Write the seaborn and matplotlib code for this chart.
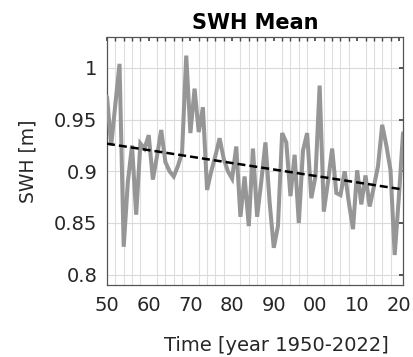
import numpy as np
import pandas as pd
import matplotlib
matplotlib.use("Agg")
import matplotlib.pyplot as plt
from matplotlib.ticker import MultipleLocator, FixedLocator, FixedFormatter
import seaborn as sns

years = list(range(1950, 2022))
swh_mean = [
    0.972, 0.925, 0.965, 1.004, 0.827, 0.890, 0.925, 0.858, 0.927, 0.922,
    0.935, 0.892, 0.915, 0.940, 0.909, 0.900, 0.895, 0.905, 0.918, 1.012,
    0.937, 0.980, 0.938, 0.962, 0.882, 0.900, 0.915, 0.932, 0.912, 0.900,
    0.893, 0.924, 0.856, 0.895, 0.847, 0.922, 0.856, 0.890, 0.928, 0.870,
    0.826, 0.847, 0.937, 0.928, 0.876, 0.916, 0.850, 0.920, 0.937, 0.874,
    0.895, 0.983, 0.861, 0.890, 0.922, 0.879, 0.877, 0.900, 0.870, 0.844,
    0.901, 0.868, 0.896, 0.866, 0.885, 0.905, 0.945, 0.925, 0.901, 0.819,
    0.875, 0.937,
]
xtick_values = [1950, 1960, 1970, 1980, 1990, 2000, 2010, 2020]
xtick_labels = ["50", "60", "70", "80", "90", "00", "10", "20"]
ytick_values = [0.8, 0.85, 0.9, 0.95, 1.0]
ytick_labels = ["0.8", "0.85", "0.9", "0.95", "1"]

df = pd.DataFrame({"year": years, "swh": swh_mean})

sns.set_theme(style="white")
plt.rcParams["font.family"] = ["DejaVu Sans"]

fig = plt.figure(figsize=(4.14, 3.57), dpi=100)
ax = fig.add_axes([0.2585, 0.2017, 0.7150, 0.6947])

sns.lineplot(data=df, x="year", y="swh", ax=ax, color="#969696", linewidth=2.9,
             solid_joinstyle="miter", zorder=3)
sns.regplot(data=df, x="year", y="swh", ax=ax, scatter=False, ci=None,
            line_kws=dict(color="black", linewidth=1.8, linestyle=(0, (3.2, 1.6)), zorder=4))

ax.set_xlim(1950, 2021)
ax.set_ylim(0.79, 1.03)

ax.xaxis.set_major_locator(FixedLocator(xtick_values))
ax.xaxis.set_major_formatter(FixedFormatter(xtick_labels))
ax.xaxis.set_minor_locator(MultipleLocator(2))
ax.yaxis.set_major_locator(FixedLocator(ytick_values))
ax.yaxis.set_major_formatter(FixedFormatter(ytick_labels))

ax.grid(False)
ax.grid(True, axis="y", which="major", color="#dadada", linewidth=0.8)
ax.grid(True, axis="x", which="minor", color="#dedede", linewidth=0.8)
ax.set_axisbelow(True)

ax.tick_params(axis="both", which="both", direction="in", top=True, right=True,
               colors="#444444", labelcolor="#262626")
ax.tick_params(axis="x", which="major", length=3, labelsize=14, pad=8)
ax.tick_params(axis="x", which="minor", length=3)
ax.tick_params(axis="y", which="major", length=3, labelsize=14, pad=7)
ax.tick_params(axis="y", which="minor", length=0)

for s in ax.spines.values():
    s.set_color("#555555")
    s.set_linewidth(0.9)

ax.set_title("SWH Mean", fontsize=15, fontweight="bold", color="black", pad=6)
ax.set_ylabel("SWH [m]", fontsize=13.5, color="#262626")
ax.yaxis.set_label_coords(-0.236, 0.5)
ax.set_xlabel("Time [year 1950-2022]", fontsize=14, color="#262626")
ax.xaxis.set_label_coords(0.571, -0.205)

fig.savefig("out.png", dpi=100)
